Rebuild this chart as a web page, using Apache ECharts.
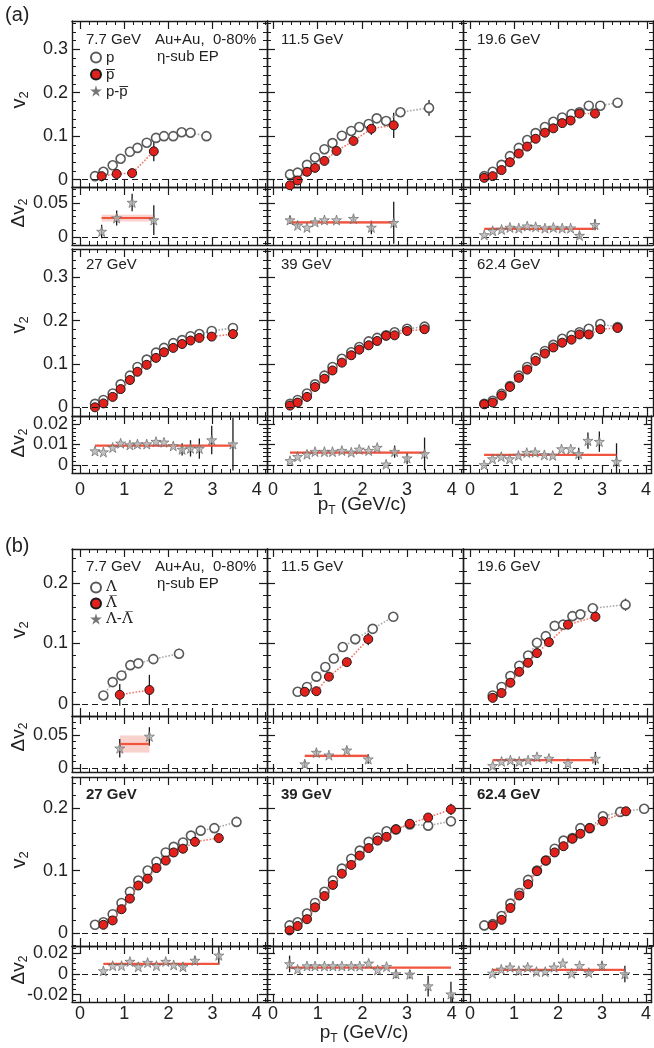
<!DOCTYPE html>
<html><head><meta charset="utf-8">
<script src="https://cdn.jsdelivr.net/npm/echarts@6/dist/echarts.min.js"></script>
<style>html,body{margin:0;padding:0;background:#fff}#c{width:654px;height:1048px}</style>
</head><body><div id="c"></div>
<script>
// ---------------- DATA ----------------
// tick labels
const xTicks = [0, 1, 2, 3, 4];
const v2TicksA = [0, 0.1, 0.2, 0.3];
const dvTicksA1 = [0, 0.05];
const dvTicksA2 = [0, 0.01, 0.02];
const v2TicksB = [0, 0.1, 0.2];
const dvTicksB1 = [0, 0.05];
const dvTicksB2 = [-0.02, 0, 0.02];
const energiesA = ['7.7 GeV', '11.5 GeV', '19.6 GeV', '27 GeV', '39 GeV', '62.4 GeV'];
const energiesB = ['7.7 GeV', '11.5 GeV', '19.6 GeV', '27 GeV', '39 GeV', '62.4 GeV'];
const namesA = ['p', 'p\u0305', 'p-p\u0305'];
const namesB = ['\u039B', '\u039B\u0305', '\u039B-\u039B\u0305'];

// (a) protons / anti-protons
const p77_pt = [0.34,0.53,0.74,0.92,1.13,1.30,1.51,1.72,1.90,2.11,2.30,2.50,2.86];
const p77_v  = [0.008,0.018,0.033,0.048,0.064,0.073,0.085,0.096,0.100,0.100,0.109,0.108,0.100];
const p77_e  = [0,0,0,0,0,0,0,0,0,0,0,0.007,0.009];
const p77_apt = [0.49,0.83,1.18,1.67];
const p77_av  = [0.008,0.013,0.015,0.065];
const p77_ae  = [0.012,0.006,0.009,0.023];
const p77_d   = [0.008,0.028,0.051,0.025];
const p77_de  = [0.010,0.011,0.013,0.022];
const p77_fit = [0.028,0.005];

const p115_pt = [0.38,0.55,0.76,0.94,1.15,1.33,1.54,1.75,1.93,2.14,2.32,2.53,2.85,3.49];
const p115_v  = [0.012,0.016,0.034,0.051,0.070,0.084,0.101,0.112,0.121,0.128,0.141,0.135,0.155,0.165];
const p115_e  = [0,0,0,0,0,0,0,0,0,0,0,0,0,0.018];
const p115_apt = [0.38,0.55,0.76,0.94,1.15,1.42,1.80,2.20,2.70];
const p115_av  = [-0.013,-0.002,0.018,0.027,0.043,0.066,0.089,0.117,0.125];
const p115_ae  = [0.005,0,0,0,0,0,0,0.014,0.029];
const p115_d   = [0.025,0.017,0.014,0.022,0.025,0.025,0.027,0.014,0.021];
const p115_de  = [0.006,0.003,0,0,0,0,0.003,0.010,0.031];
const p115_fit = [0.0216,0.002];

const p196_pt = [0.32,0.51,0.71,0.90,1.10,1.29,1.48,1.69,1.88,2.08,2.29,2.47,2.68,2.94,3.33];
const p196_v  = [0.008,0.018,0.034,0.054,0.073,0.091,0.107,0.121,0.133,0.143,0.151,0.155,0.170,0.170,0.177];
const p196_e  = [0,0,0,0,0,0,0,0,0,0,0,0,0,0,0.004];
const p196_apt = [0.32,0.51,0.71,0.90,1.10,1.29,1.48,1.69,1.88,2.08,2.27,2.47,2.82];
const p196_av  = [0.004,0.008,0.022,0.040,0.060,0.076,0.094,0.108,0.118,0.130,0.136,0.152,0.152];
const p196_ae  = [0,0,0,0,0,0,0,0,0,0,0,0,0.005];
const p196_d   = [0.003,0.009,0.011,0.014,0.013,0.016,0.015,0.013,0.014,0.013,0.013,0.002,0.018];
const p196_de  = [0,0,0,0,0,0,0,0,0,0,0,0.004,0.008];
const p196_fit = [0.012,0.0015];

const p27_pt = [0.34,0.53,0.74,0.92,1.13,1.30,1.51,1.72,1.90,2.11,2.31,2.50,2.70,2.98,3.46];
const p27_v  = [0.008,0.017,0.032,0.053,0.073,0.093,0.110,0.126,0.137,0.148,0.155,0.164,0.169,0.176,0.183];
const p27_e  = [0,0,0,0,0,0,0,0,0,0,0,0,0,0,0.003];
const p27_apt = [0.34,0.53,0.74,0.92,1.13,1.30,1.51,1.72,1.90,2.11,2.31,2.50,2.70,2.98,3.46];
const p27_av  = [0.000,0.009,0.024,0.042,0.063,0.082,0.098,0.114,0.127,0.137,0.146,0.154,0.160,0.163,0.169];
const p27_ae  = [0,0,0,0,0,0,0,0,0,0,0,0,0,0,0.004];
const p27_d   = [0.0068,0.0063,0.0085,0.0106,0.0098,0.0102,0.0102,0.0114,0.0111,0.0093,0.0076,0.0081,0.0080,0.0122,0.0102];
const p27_de  = [0,0,0,0,0,0,0,0,0,0,0.003,0.004,0.005,0.007,0.013];
const p27_fit = [0.0094,0.0004];

const p39_pt = [0.38,0.55,0.76,0.94,1.15,1.33,1.54,1.75,1.93,2.14,2.33,2.53,2.72,3.00,3.39];
const p39_v  = [0.008,0.017,0.032,0.053,0.073,0.093,0.112,0.127,0.139,0.152,0.160,0.166,0.173,0.181,0.186];
const p39_e  = [0,0,0,0,0,0,0,0,0,0,0,0,0,0,0.003];
const p39_apt = [0.38,0.55,0.76,0.94,1.15,1.33,1.54,1.75,1.93,2.14,2.33,2.53,2.72,3.00,3.39];
const p39_av  = [0.004,0.011,0.024,0.047,0.066,0.085,0.103,0.120,0.133,0.143,0.153,0.165,0.166,0.176,0.180];
const p39_ae  = [0,0,0,0,0,0,0,0,0,0,0,0,0,0,0.004];
const p39_d   = [0.0020,0.0040,0.0052,0.0065,0.0065,0.0065,0.0070,0.0062,0.0076,0.0070,0.0085,0.0003,0.0065,0.0033,0.0054];
const p39_de  = [0,0,0,0,0,0,0,0,0,0,0,0,0.003,0.003,0.008];
const p39_fit = [0.0060,0.0004];

const p624_pt = [0.32,0.51,0.71,0.90,1.10,1.29,1.48,1.69,1.88,2.08,2.29,2.47,2.68,2.94,3.33];
const p624_v  = [0.008,0.015,0.031,0.049,0.073,0.093,0.114,0.130,0.144,0.158,0.166,0.173,0.181,0.192,0.185];
const p624_e  = [0,0,0,0,0,0,0,0,0,0,0,0,0,0,0];
const p624_apt = [0.32,0.51,0.71,0.90,1.10,1.29,1.48,1.69,1.88,2.08,2.29,2.47,2.68,2.94,3.33];
const p624_av  = [0.007,0.011,0.027,0.047,0.068,0.087,0.107,0.124,0.138,0.149,0.156,0.168,0.168,0.180,0.183];
const p624_ae  = [0,0,0,0,0,0,0,0,0,0,0,0,0,0,0.004];
const p624_d   = [0.0000,0.0029,0.0040,0.0029,0.0046,0.0060,0.0062,0.0049,0.0046,0.0078,0.0078,0.0054,0.0119,0.0114,0.0016];
const p624_de  = [0,0,0,0,0,0,0,0,0,0,0,0.003,0.004,0.005,0.009];
const p624_fit = [0.0049,0.0004];

// (b) Lambda / anti-Lambda
const L77_pt = [0.53,0.74,0.94,1.14,1.32,1.66,2.24];
const L77_v  = [0.014,0.036,0.047,0.064,0.067,0.074,0.083];
const L77_e  = [0.006,0,0,0,0,0,0.008];
const L77_apt = [0.90,1.57];
const L77_av  = [0.015,0.023];
const L77_ae  = [0.018,0.025];
const L77_d   = [0.030,0.048];
const L77_de  = [0.014,0.014];
const L77_fit = [0.0365,0.013];

const L115_pt = [0.55,0.76,0.97,1.17,1.36,1.56,1.84,2.23,2.69];
const L115_v  = [0.020,0.028,0.045,0.061,0.075,0.094,0.107,0.124,0.144];
const L115_e  = [0,0,0,0,0,0,0,0,0.007];
const L115_apt = [0.71,0.97,1.25,1.65,2.13];
const L115_av  = [0.020,0.021,0.045,0.069,0.107];
const L115_ae  = [0.005,0.005,0,0.006,0.010];
const L115_d   = [0.006,0.0235,0.0195,0.027,0.0135];
const L115_de  = [0.005,0.004,0.003,0.004,0.007];
const L115_fit = [0.0185,0.002];

const L196_pt = [0.51,0.71,0.91,1.11,1.31,1.51,1.71,1.91,2.10,2.31,2.49,2.77,3.51];
const L196_v  = [0.014,0.028,0.046,0.063,0.080,0.101,0.112,0.129,0.131,0.145,0.148,0.158,0.164];
const L196_e  = [0,0,0,0,0,0,0,0,0,0,0,0.004,0.010];
const L196_apt = [0.51,0.71,0.91,1.11,1.31,1.51,1.78,2.21,2.83];
const L196_av  = [0.010,0.018,0.035,0.053,0.068,0.084,0.102,0.131,0.144];
const L196_ae  = [0,0,0,0,0,0,0,0,0.008];
const L196_d   = [0.0035,0.010,0.012,0.010,0.012,0.017,0.0145,0.007,0.0145];
const L196_de  = [0,0,0,0,0,0,0,0,0.010];
const L196_fit = [0.012,0.001];

const L27_pt = [0.34,0.53,0.74,0.94,1.13,1.32,1.53,1.73,1.94,2.12,2.33,2.51,2.73,3.04,3.54];
const L27_v  = [0.013,0.017,0.030,0.048,0.066,0.084,0.100,0.114,0.129,0.138,0.145,0.156,0.164,0.168,0.178];
const L27_e  = [0,0,0,0,0,0,0,0,0,0,0,0,0,0,0.005];
const L27_apt = [0.53,0.74,0.94,1.13,1.32,1.53,1.73,1.94,2.12,2.33,2.60,3.14];
const L27_av  = [0.013,0.020,0.038,0.055,0.076,0.087,0.104,0.116,0.129,0.135,0.146,0.152];
const L27_ae  = [0,0,0,0,0,0,0,0,0,0,0,0.006];
const L27_d   = [0.003,0.008,0.008,0.012,0.007,0.011,0.008,0.012,0.0087,0.007,0.013,0.018];
const L27_de  = [0,0,0,0,0,0,0,0,0,0.003,0.004,0.009];
const L27_fit = [0.0097,0.0005];

const L39_pt = [0.37,0.55,0.76,0.94,1.15,1.34,1.54,1.75,1.94,2.14,2.34,2.54,2.75,3.06,3.47,3.98];
const L39_v  = [0.012,0.017,0.031,0.048,0.066,0.084,0.103,0.119,0.132,0.146,0.153,0.163,0.166,0.174,0.172,0.179];
const L39_e  = [0,0,0,0,0,0,0,0,0,0,0,0,0,0,0.005,0.008];
const L39_apt = [0.37,0.55,0.76,0.94,1.15,1.34,1.54,1.75,1.94,2.14,2.34,2.54,2.75,3.06,3.47,3.98];
const L39_av  = [0.004,0.011,0.022,0.041,0.059,0.077,0.095,0.109,0.124,0.136,0.148,0.154,0.166,0.175,0.185,0.198];
const L39_ae  = [0.004,0,0,0,0,0,0,0,0,0,0,0,0,0,0.006,0.009];
const L39_d   = [0.0097,0.0045,0.0077,0.0077,0.0077,0.0077,0.0077,0.0077,0.0077,0.0103,0.0039,0.0071,0.0,-0.0003,-0.0116,-0.0194];
const L39_de  = [0.008,0,0,0,0,0,0,0,0,0,0,0,0.004,0.004,0.010,0.012];
const L39_fit = [0.0061,0.0005];

const L624_pt = [0.32,0.51,0.71,0.91,1.11,1.31,1.51,1.71,1.91,2.11,2.31,2.49,2.70,3.00,3.39,3.93];
const L624_v  = [0.012,0.014,0.027,0.047,0.064,0.085,0.100,0.116,0.135,0.148,0.152,0.168,0.168,0.187,0.194,0.199];
const L624_e  = [0.005,0,0,0,0,0,0,0,0,0,0,0,0,0,0.005,0.006];
const L624_apt = [0.51,0.71,0.91,1.11,1.31,1.51,1.71,1.91,2.11,2.31,2.49,2.70,3.00,3.52];
const L624_av  = [0.012,0.021,0.040,0.060,0.078,0.099,0.116,0.129,0.139,0.151,0.159,0.168,0.179,0.195];
const L624_ae  = [0,0,0,0,0,0,0,0,0,0,0,0,0,0.005];
const L624_d   = [0.0006,0.0045,0.0065,0.0032,0.0065,0.0023,0.0023,0.0065,0.0103,0.0006,0.008,0.0013,0.008,0.0];
const L624_de  = [0,0,0,0,0,0,0,0,0,0,0,0.003,0.004,0.008];
const L624_fit = [0.0039,0.0005];

// ---------------- BUILD ----------------
const FONT = '"Liberation Sans", Arial, Helvetica, sans-serif';
const SERIF = '"DejaVu Serif", "Liberation Serif", serif';
const STAR = 'path://M50,2 L61.5,36 L97,36 L68.5,57.5 L79,92 L50,71 L21,92 L31.5,57.5 L3,36 L38.5,36 Z';
const STAR_SMALL = 'path://M50,20 L57,41 L79,41 L61,54 L68,75 L50,62 L32,75 L39,54 L21,41 L43,41 Z M0,0 L0.01,0 M100,100 L100.01,100';
const INK = '#1a1a1a';

const pack = (pt, v, e, apt, av, ae, d, de, fit) => ({pt, v, e, apt, av, ae, d, de, fit});
const panelsA = [
  pack(p77_pt,p77_v,p77_e,p77_apt,p77_av,p77_ae,p77_d,p77_de,p77_fit),
  pack(p115_pt,p115_v,p115_e,p115_apt,p115_av,p115_ae,p115_d,p115_de,p115_fit),
  pack(p196_pt,p196_v,p196_e,p196_apt,p196_av,p196_ae,p196_d,p196_de,p196_fit),
  pack(p27_pt,p27_v,p27_e,p27_apt,p27_av,p27_ae,p27_d,p27_de,p27_fit),
  pack(p39_pt,p39_v,p39_e,p39_apt,p39_av,p39_ae,p39_d,p39_de,p39_fit),
  pack(p624_pt,p624_v,p624_e,p624_apt,p624_av,p624_ae,p624_d,p624_de,p624_fit)
];
const panelsB = [
  pack(L77_pt,L77_v,L77_e,L77_apt,L77_av,L77_ae,L77_d,L77_de,L77_fit),
  pack(L115_pt,L115_v,L115_e,L115_apt,L115_av,L115_ae,L115_d,L115_de,L115_fit),
  pack(L196_pt,L196_v,L196_e,L196_apt,L196_av,L196_ae,L196_d,L196_de,L196_fit),
  pack(L27_pt,L27_v,L27_e,L27_apt,L27_av,L27_ae,L27_d,L27_de,L27_fit),
  pack(L39_pt,L39_v,L39_e,L39_apt,L39_av,L39_ae,L39_d,L39_de,L39_fit),
  pack(L624_pt,L624_v,L624_e,L624_apt,L624_av,L624_ae,L624_d,L624_de,L624_fit)
];

const COLS = [
  {left: 72, width: 195, xr: [-0.18, 4.23]},
  {left: 267, width: 196, xr: [-0.135, 4.25]},
  {left: 463, width: 190, xr: [-0.16, 4.13]}
];
const FIGS = [
  {panels: panelsA, names: namesA, energies: energiesA, boldRow2: false, xMargin: 8,
   rows: [
     {v2: {top: 21, h: 166, yr: [-0.017, 0.365], major: v2TicksA, minor: 0.02},
      dv: {top: 187, h: 58, yr: [-0.012, 0.074], major: dvTicksA1, minor: 0.01}, showX: false},
     {v2: {top: 249, h: 167, yr: [-0.02, 0.365], major: v2TicksA, minor: 0.02},
      dv: {top: 416, h: 57, yr: [-0.004, 0.024], major: dvTicksA2, minor: 0.002}, showX: true}
   ]},
  {panels: panelsB, names: namesB, energies: energiesB, boldRow2: true, xMargin: 3,
   rows: [
     {v2: {top: 549, h: 167, yr: [-0.02, 0.256], major: v2TicksB, minor: 0.02},
      dv: {top: 716, h: 56, yr: [-0.006, 0.079], major: dvTicksB1, minor: 0.01}, showX: false},
     {v2: {top: 777, h: 169, yr: [-0.021, 0.25], major: v2TicksB, minor: 0.02},
      dv: {top: 946, h: 56, yr: [-0.027, 0.027], major: dvTicksB2, minor: 0.005}, showX: true}
   ]}
];

const grids = [], xAxis = [], yAxis = [], series = [], graphic = [];

function stepTicks(lo, hi, step) {
  const out = [];
  for (let k = Math.ceil(lo / step - 1e-9); k * step <= hi + 1e-9; k++) out.push(+(k * step).toFixed(6));
  return out;
}
const fmt = v => String(+(+v).toFixed(4));

function axisSet(gi, dim, pos, range, major, minorStep, labels, margin) {
  const minors = stepTicks(range[0], range[1], minorStep).filter(v => !major.some(m => Math.abs(m - v) < 1e-9));
  const majorsIn = major.filter(v => v > range[0] && v < range[1]);
  const base = {type: 'value', gridIndex: gi, position: pos, min: range[0], max: range[1],
    splitLine: {show: false}, minorTick: {show: false}, scale: false};
  const main = Object.assign({}, base, {
    axisLine: {show: true, onZero: false, lineStyle: {color: INK, width: 1.4}},
    axisTick: {show: true, inside: true, length: 8, customValues: majorsIn, lineStyle: {color: INK, width: 1.2}},
    axisLabel: labels ? {show: true, customValues: majorsIn, formatter: fmt, fontSize: 18, fontFamily: FONT,
      color: '#222', margin: margin} : {show: false}
  });
  const minor = Object.assign({}, base, {
    axisLine: {show: false, onZero: false},
    axisTick: {show: true, inside: true, length: 4, customValues: minors, lineStyle: {color: INK, width: 1}},
    axisLabel: {show: false}
  });
  const arr = dim === 'x' ? xAxis : yAxis;
  arr.push(main, minor);
}

function addGrid(left, top, width, height, xr, yr, yMajor, yMinor, showX, showY, xMargin) {
  const gi = grids.length;
  grids.push({left, top, width, height});
  const xi = xAxis.length, yi = yAxis.length;
  axisSet(gi, 'x', 'bottom', xr, xTicks, 0.2, showX, xMargin);
  axisSet(gi, 'x', 'top', xr, xTicks, 0.2, false, 0);
  axisSet(gi, 'y', 'left', yr, yMajor, yMinor, showY, 4);
  axisSet(gi, 'y', 'right', yr, yMajor, yMinor, false, 0);
  return {xi, yi};
}

const zeroLine = {silent: true, symbol: ['none', 'none'], label: {show: false}, animation: false,
  lineStyle: {color: INK, type: [6, 4], width: 1.2}, data: [{yAxis: 0}]};
const zip = (xs, ys) => xs.map((x, i) => [x, ys[i]]);

function errSeries(g, xs, ys, es) {
  const data = xs.map((x, i) => [x, ys[i], es[i]]).filter(d => d[2] > 0);
  return {type: 'custom', xAxisIndex: g.xi, yAxisIndex: g.yi, data, dimensions: ['x', 'y', 'e'],
    encode: {x: 0, y: 1}, clip: true, silent: true, z: 2,
    renderItem(params, api) {
      const x = api.value(0), y = api.value(1), e = api.value(2);
      const a = api.coord([x, y - e]), b = api.coord([x, y + e]);
      return {type: 'line', shape: {x1: a[0], y1: a[1], x2: b[0], y2: b[1]}, style: {stroke: INK, lineWidth: 1.3}};
    }};
}

function txt(x, y, text, size, opts) {
  graphic.push({type: 'text', x, y, silent: true, style: Object.assign({text, fontSize: size, fontFamily: FONT,
    fill: '#222', align: 'left', verticalAlign: 'middle'}, opts || {})});
}
function richTitle(x, y, main, sub, rot, size) {
  graphic.push({type: 'text', x, y, rotation: rot, silent: true, style: {
    text: '{a|' + main + '}{b|' + sub + '}', align: 'center', verticalAlign: 'middle',
    rich: {a: {fontSize: size, fontFamily: FONT, fill: '#222'},
           b: {fontSize: Math.round(size * 0.65), fontFamily: FONT, fill: '#222', padding: [Math.round(size * 0.5), 0, 0, 0]}}}});
}

FIGS.forEach((fig, f) => {
  fig.rows.forEach((row, r) => {
    COLS.forEach((col, c) => {
      const P = fig.panels[r * 3 + c];
      const g1 = addGrid(col.left, row.v2.top, col.width, row.v2.h, col.xr, row.v2.yr, row.v2.major, row.v2.minor, false, c === 0, 0);
      const g2 = addGrid(col.left, row.dv.top, col.width, row.dv.h, col.xr, row.dv.yr, row.dv.major, row.dv.minor, row.showX, c === 0, fig.xMargin);
      // v2 panel
      series.push({type: 'line', name: fig.names[0], xAxisIndex: g1.xi, yAxisIndex: g1.yi, data: zip(P.pt, P.v),
        symbol: 'circle', symbolSize: 9, itemStyle: {color: '#ffffff', borderColor: '#5a5a5a', borderWidth: 1.6},
        lineStyle: {color: '#a8a8a8', width: 1.6, type: 'dotted'}, z: 3, markLine: zeroLine});
      series.push(errSeries(g1, P.pt, P.v, P.e));
      series.push({type: 'line', name: fig.names[1], xAxisIndex: g1.xi, yAxisIndex: g1.yi, data: zip(P.apt, P.av),
        symbol: 'circle', symbolSize: 9, itemStyle: {color: '#e3211c', borderColor: '#1a1a1a', borderWidth: 1},
        lineStyle: {color: '#f0786a', width: 1.6, type: 'dotted'}, z: 4});
      series.push(errSeries(g1, P.apt, P.av, P.ae));
      // delta v2 panel
      const x0 = P.apt[0], x1 = P.apt[P.apt.length - 1], fv = P.fit[0], fb = P.fit[1];
      series.push({type: 'line', xAxisIndex: g2.xi, yAxisIndex: g2.yi, data: [[x0, fv], [x1, fv]], symbol: 'none',
        lineStyle: {color: '#f2553f', width: 2.2}, z: 3, silent: true,
        markArea: {silent: true, itemStyle: {color: 'rgba(232,95,80,0.28)'},
          data: [[{coord: [x0, fv - fb]}, {coord: [x1, fv + fb]}]]},
        markLine: zeroLine});
      series.push(errSeries(g2, P.apt, P.d, P.de));
      series.push({type: 'scatter', name: fig.names[2], xAxisIndex: g2.xi, yAxisIndex: g2.yi, data: zip(P.apt, P.d),
        symbol: STAR, symbolSize: 10, itemStyle: {color: '#b3b3b3', borderColor: '#5e5e5e', borderWidth: 0.8}, z: 5});
      // energy label
      const ly = [[40, 265], [567, 795]][f][r];
      txt(col.left + 14, ly, fig.energies[r * 3 + c], 15, (fig.boldRow2 && r === 1) ? {fontWeight: 'bold'} : {});
    });
  });
});

// figure-level annotations
txt(5, 15, '(a)', 20);
txt(5, 546, '(b)', 20);
txt(155, 40, 'Au+Au,  0-80%', 15);
txt(157, 57, '\u03B7-sub EP', 15);
txt(155, 567, 'Au+Au,  0-80%', 15);
txt(157, 584, '\u03B7-sub EP', 15);
// axis titles
richTitle(19, 100, 'v', '2', Math.PI / 2, 20);
richTitle(19, 213, '\u0394v', '2', Math.PI / 2, 19);
richTitle(19, 325, 'v', '2', Math.PI / 2, 20);
richTitle(19, 443, '\u0394v', '2', Math.PI / 2, 19);
richTitle(19, 630, 'v', '2', Math.PI / 2, 20);
richTitle(19, 737, '\u0394v', '2', Math.PI / 2, 19);
richTitle(19, 860, 'v', '2', Math.PI / 2, 20);
richTitle(19, 970, '\u0394v', '2', Math.PI / 2, 19);
graphic.push({type: 'text', x: 362, y: 505, silent: true, style: {text: '{a|p}{b|T}{a| (GeV/c)}', align: 'center', verticalAlign: 'middle',
  rich: {a: {fontSize: 19, fontFamily: FONT, fill: '#222'}, b: {fontSize: 12, fontFamily: FONT, fill: '#222', padding: [11, 0, 0, 0]}}}});
graphic.push({type: 'text', x: 364, y: 1033, silent: true, style: {text: '{a|p}{b|T}{a| (GeV/c)}', align: 'center', verticalAlign: 'middle',
  rich: {a: {fontSize: 19, fontFamily: FONT, fill: '#222'}, b: {fontSize: 12, fontFamily: FONT, fill: '#222', padding: [11, 0, 0, 0]}}}});

const legendCommon = {orient: 'vertical', itemWidth: 10, itemHeight: 10, itemGap: 2, selectedMode: false,
  lineStyle: {opacity: 0}, padding: 0};
const option = {
  animation: false,
  textStyle: {fontFamily: FONT},
  grid: grids, xAxis, yAxis, series, graphic,
  legend: [
    Object.assign({}, legendCommon, {left: 90, top: 50, textStyle: {fontSize: 15, fontFamily: FONT, color: '#222'},
      data: [{name: namesA[0], icon: 'circle'}, {name: namesA[1], icon: 'circle'}, {name: namesA[2], icon: STAR_SMALL}]}),
    Object.assign({}, legendCommon, {left: 90, top: 580, itemGap: 1, textStyle: {fontSize: 15, fontFamily: SERIF, color: '#222'},
      data: [{name: namesB[0], icon: 'circle'}, {name: namesB[1], icon: 'circle'}, {name: namesB[2], icon: STAR_SMALL}]})
  ]
};
const chart = echarts.init(document.getElementById('c'), null, {renderer: 'canvas'});
chart.setOption(option);
</script></body></html>
